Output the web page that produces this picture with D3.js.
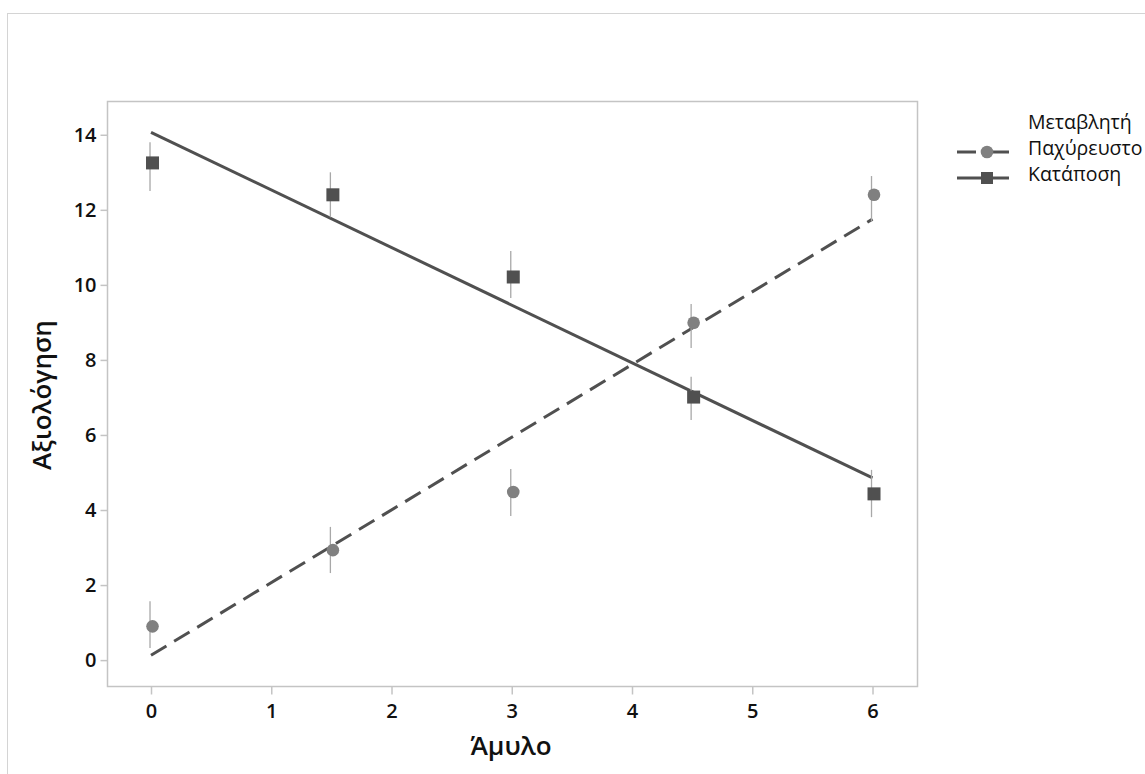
<!DOCTYPE html>
<meta charset="utf-8">
<style>
  body { margin: 0; background: #fff; }
  text { font-family: "Open Sans", "Noto Sans", sans-serif; }
</style>
<svg width="1145" height="774"></svg>
<script src="https://d3js.org/d3.v7.min.js"></script>
<script>
// data
var amylo = [0, 1.5, 3, 4.5, 6];
var seriesNames = ["Παχύρευστο", "Κατάποση"];
var paxyreusto = [0.9, 2.93, 4.48, 8.99, 12.4];
var paxyreustoLow = [0.32, 2.32, 3.84, 8.32, 11.68];
var paxyreustoHigh = [1.57, 3.55, 5.09, 9.49, 12.9];
var katapos = [13.25, 12.4, 10.21, 7.01, 4.43];
var kataposLow = [12.5, 11.8, 9.65, 6.4, 3.81];
var kataposHigh = [13.8, 13.0, 10.9, 7.55, 5.07];
var xTicks = [0, 1, 2, 3, 4, 5, 6];
var yTicks = [0, 2, 4, 6, 8, 10, 12, 14];

var svg = d3.select("svg");

// outer frame
svg.append("rect")
    .attr("x", 7.5).attr("y", 13.5)
    .attr("width", 1145).attr("height", 774)
    .attr("fill", "none").attr("stroke", "#d4d4d4");

var x = d3.scaleLinear().domain([-0.366, 6.37]).range([107, 917]);
var y = d3.scaleLinear().domain([-0.69, 14.9]).range([686, 101]);

// plot box
svg.append("rect")
    .attr("x", 107.5).attr("y", 101.5)
    .attr("width", 810).attr("height", 585)
    .attr("fill", "none").attr("stroke", "#c4c4c4").attr("stroke-width", 1.5);

var xAxis = svg.append("g")
    .attr("transform", "translate(0,686.5)")
    .call(d3.axisBottom(x).tickValues(xTicks).tickSize(8).tickPadding(9).tickFormat(d3.format("d")));
var yAxis = svg.append("g")
    .attr("transform", "translate(107.5,0)")
    .call(d3.axisLeft(y).tickValues(yTicks).tickSize(7).tickPadding(4).tickFormat(d3.format("d")));
[xAxis, yAxis].forEach(function(a) {
  a.attr("font-size", null).attr("font-family", null);
  a.select(".domain").remove();
  a.selectAll(".tick line").attr("stroke", "#c4c4c4").attr("stroke-width", 1.5);
  a.selectAll(".tick text").attr("fill", "#111")
    .style("font-size", "20px").style("font-weight", "600");
});

svg.append("text")
    .attr("x", 511).attr("y", 755)
    .attr("text-anchor", "middle")
    .style("font-size", "26px").style("font-weight", "600").attr("fill", "#111")
    .text("Άμυλο");
svg.append("text")
    .attr("transform", "translate(51,395) rotate(-90)")
    .attr("text-anchor", "middle")
    .style("font-size", "26px").style("font-weight", "600").attr("fill", "#111")
    .text("Αξιολόγηση");

// least squares fit
function fit(xs, ys) {
  var mx = d3.mean(xs), my = d3.mean(ys);
  var sxy = d3.sum(xs, function(v, i) { return (v - mx) * (ys[i] - my); });
  var sxx = d3.sum(xs, function(v) { return (v - mx) * (v - mx); });
  var b = sxy / sxx;
  return [my - b * mx, b];
}

var series = [
  { name: seriesNames[0], vals: paxyreusto, lo: paxyreustoLow, hi: paxyreustoHigh, color: "#808080", line: "#505050", dash: "18,9", shape: "circle" },
  { name: seriesNames[1], vals: katapos, lo: kataposLow, hi: kataposHigh, color: "#505050", line: "#505050", dash: null, shape: "square" }
];

series.forEach(function(s) {
  var f = fit(amylo, s.vals);
  var x0 = d3.min(amylo), x1 = d3.max(amylo);
  svg.append("line")
      .attr("x1", x(x0)).attr("y1", y(f[0] + f[1] * x0))
      .attr("x2", x(x1)).attr("y2", y(f[0] + f[1] * x1))
      .attr("stroke", s.line).attr("stroke-width", 3)
      .attr("stroke-dasharray", s.dash);

  svg.append("g").selectAll("line")
    .data(amylo)
    .enter().append("line")
      .attr("x1", function(d) { return x(d) - 1; })
      .attr("x2", function(d) { return x(d) - 1; })
      .attr("y1", function(d, i) { return y(s.lo[i]); })
      .attr("y2", function(d, i) { return y(s.hi[i]); })
      .attr("stroke", "#a8a8a8").attr("stroke-width", 1.3);

  var g = svg.append("g");
  if (s.shape === "circle") {
    g.selectAll("circle").data(amylo).enter().append("circle")
      .attr("cx", function(d) { return x(d) + 1.5; })
      .attr("cy", function(d, i) { return y(s.vals[i]); })
      .attr("r", 6.3).attr("fill", s.color);
  } else {
    g.selectAll("rect").data(amylo).enter().append("rect")
      .attr("x", function(d) { return x(d) + 1.5 - 6.5; })
      .attr("y", function(d, i) { return y(s.vals[i]) - 6.5; })
      .attr("width", 13).attr("height", 13).attr("fill", s.color);
  }
});

// legend
var lg = svg.append("g");
lg.append("text").attr("x", 1028).attr("y", 129)
  .style("font-size", "19.5px").attr("fill", "#111").text("Μεταβλητή");
series.forEach(function(s, i) {
  var yy = 152 + i * 26;
  lg.append("line").attr("x1", 957).attr("x2", 1009).attr("y1", yy).attr("y2", yy)
    .attr("stroke", s.line).attr("stroke-width", 3).attr("stroke-dasharray", s.dash ? "19,17,16" : null);
  if (s.shape === "circle")
    lg.append("circle").attr("cx", 987).attr("cy", yy).attr("r", 6.3).attr("fill", s.color);
  else
    lg.append("rect").attr("x", 981).attr("y", yy - 6).attr("width", 12).attr("height", 12).attr("fill", s.color);
  lg.append("text").attr("x", 1028).attr("y", yy + 3)
    .style("font-size", "19.5px").attr("fill", "#111").text(s.name);
});
</script>
